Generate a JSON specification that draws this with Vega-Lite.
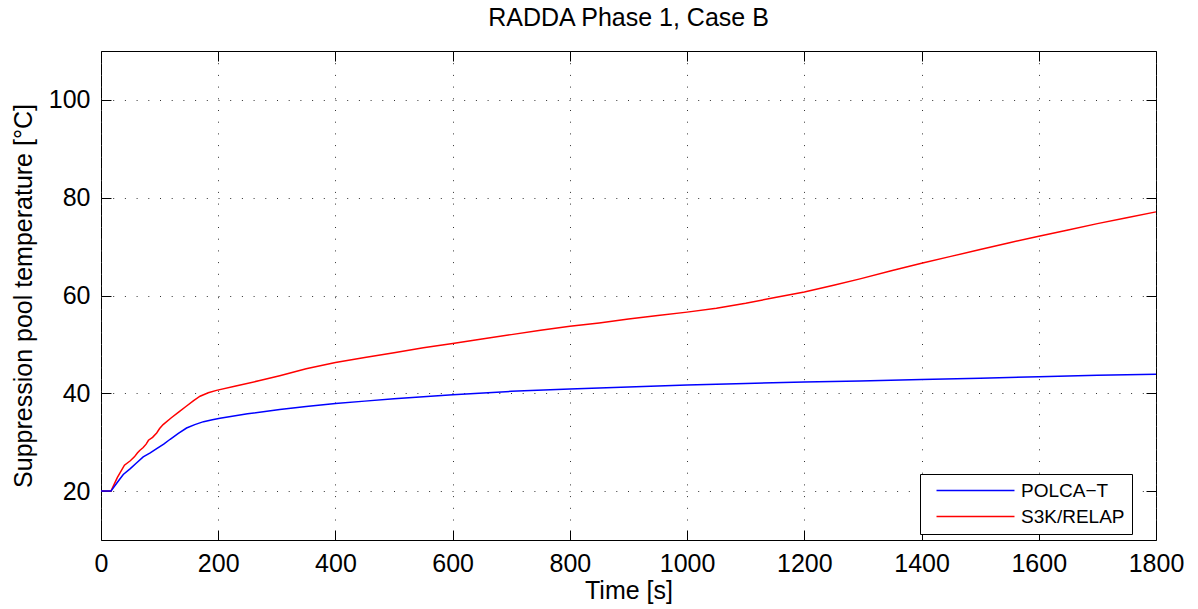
{
  "$schema": "https://vega.github.io/schema/vega-lite/v6.json",
  "width": 1055,
  "height": 489,
  "autosize": "none",
  "padding": {"left": 101, "top": 51, "right": 42, "bottom": 69},
  "background": "white",
  "title": {"text": "RADDA Phase 1, Case B", "fontSize": 25, "fontWeight": "normal", "font": "Liberation Sans", "color": "black", "baseline": "alphabetic", "offset": 0},
  "data": {"values": [
    {"t": 0, "temp": 20, "series": "S3K/RELAP"},
    {"t": 17, "temp": 20, "series": "S3K/RELAP"},
    {"t": 28, "temp": 22.8, "series": "S3K/RELAP"},
    {"t": 40, "temp": 25.3, "series": "S3K/RELAP"},
    {"t": 50, "temp": 26.2, "series": "S3K/RELAP"},
    {"t": 57, "temp": 27.0, "series": "S3K/RELAP"},
    {"t": 62, "temp": 27.8, "series": "S3K/RELAP"},
    {"t": 66, "temp": 28.3, "series": "S3K/RELAP"},
    {"t": 72, "temp": 28.9, "series": "S3K/RELAP"},
    {"t": 77, "temp": 29.6, "series": "S3K/RELAP"},
    {"t": 81, "temp": 30.4, "series": "S3K/RELAP"},
    {"t": 88, "temp": 31.0, "series": "S3K/RELAP"},
    {"t": 95, "temp": 31.9, "series": "S3K/RELAP"},
    {"t": 100, "temp": 32.8, "series": "S3K/RELAP"},
    {"t": 106, "temp": 33.6, "series": "S3K/RELAP"},
    {"t": 120, "temp": 35.0, "series": "S3K/RELAP"},
    {"t": 133, "temp": 36.2, "series": "S3K/RELAP"},
    {"t": 146, "temp": 37.4, "series": "S3K/RELAP"},
    {"t": 158, "temp": 38.5, "series": "S3K/RELAP"},
    {"t": 169, "temp": 39.4, "series": "S3K/RELAP"},
    {"t": 183, "temp": 40.1, "series": "S3K/RELAP"},
    {"t": 197, "temp": 40.6, "series": "S3K/RELAP"},
    {"t": 230, "temp": 41.5, "series": "S3K/RELAP"},
    {"t": 271, "temp": 42.6, "series": "S3K/RELAP"},
    {"t": 305, "temp": 43.6, "series": "S3K/RELAP"},
    {"t": 350, "temp": 45.0, "series": "S3K/RELAP"},
    {"t": 400, "temp": 46.3, "series": "S3K/RELAP"},
    {"t": 450, "temp": 47.3, "series": "S3K/RELAP"},
    {"t": 500, "temp": 48.3, "series": "S3K/RELAP"},
    {"t": 550, "temp": 49.3, "series": "S3K/RELAP"},
    {"t": 600, "temp": 50.2, "series": "S3K/RELAP"},
    {"t": 650, "temp": 51.1, "series": "S3K/RELAP"},
    {"t": 700, "temp": 52.0, "series": "S3K/RELAP"},
    {"t": 750, "temp": 52.9, "series": "S3K/RELAP"},
    {"t": 800, "temp": 53.7, "series": "S3K/RELAP"},
    {"t": 850, "temp": 54.4, "series": "S3K/RELAP"},
    {"t": 900, "temp": 55.2, "series": "S3K/RELAP"},
    {"t": 950, "temp": 55.9, "series": "S3K/RELAP"},
    {"t": 1000, "temp": 56.6, "series": "S3K/RELAP"},
    {"t": 1050, "temp": 57.4, "series": "S3K/RELAP"},
    {"t": 1100, "temp": 58.4, "series": "S3K/RELAP"},
    {"t": 1150, "temp": 59.6, "series": "S3K/RELAP"},
    {"t": 1200, "temp": 60.7, "series": "S3K/RELAP"},
    {"t": 1250, "temp": 62.1, "series": "S3K/RELAP"},
    {"t": 1295, "temp": 63.4, "series": "S3K/RELAP"},
    {"t": 1350, "temp": 65.1, "series": "S3K/RELAP"},
    {"t": 1400, "temp": 66.6, "series": "S3K/RELAP"},
    {"t": 1450, "temp": 68.0, "series": "S3K/RELAP"},
    {"t": 1500, "temp": 69.4, "series": "S3K/RELAP"},
    {"t": 1550, "temp": 70.8, "series": "S3K/RELAP"},
    {"t": 1600, "temp": 72.1, "series": "S3K/RELAP"},
    {"t": 1650, "temp": 73.4, "series": "S3K/RELAP"},
    {"t": 1700, "temp": 74.7, "series": "S3K/RELAP"},
    {"t": 1750, "temp": 75.9, "series": "S3K/RELAP"},
    {"t": 1800, "temp": 77.1, "series": "S3K/RELAP"},
    {"t": 0, "temp": 20, "series": "POLCA−T"},
    {"t": 17, "temp": 20, "series": "POLCA−T"},
    {"t": 28, "temp": 21.8, "series": "POLCA−T"},
    {"t": 38, "temp": 23.4, "series": "POLCA−T"},
    {"t": 50, "temp": 24.6, "series": "POLCA−T"},
    {"t": 60, "temp": 25.7, "series": "POLCA−T"},
    {"t": 72, "temp": 27.0, "series": "POLCA−T"},
    {"t": 84, "temp": 27.8, "series": "POLCA−T"},
    {"t": 95, "temp": 28.7, "series": "POLCA−T"},
    {"t": 107, "temp": 29.6, "series": "POLCA−T"},
    {"t": 118, "temp": 30.6, "series": "POLCA−T"},
    {"t": 132, "temp": 31.8, "series": "POLCA−T"},
    {"t": 146, "temp": 32.9, "series": "POLCA−T"},
    {"t": 160, "temp": 33.6, "series": "POLCA−T"},
    {"t": 175, "temp": 34.2, "series": "POLCA−T"},
    {"t": 190, "temp": 34.6, "series": "POLCA−T"},
    {"t": 203, "temp": 34.9, "series": "POLCA−T"},
    {"t": 250, "temp": 35.8, "series": "POLCA−T"},
    {"t": 305, "temp": 36.7, "series": "POLCA−T"},
    {"t": 350, "temp": 37.3, "series": "POLCA−T"},
    {"t": 400, "temp": 37.9, "series": "POLCA−T"},
    {"t": 450, "temp": 38.4, "series": "POLCA−T"},
    {"t": 500, "temp": 38.9, "series": "POLCA−T"},
    {"t": 550, "temp": 39.3, "series": "POLCA−T"},
    {"t": 600, "temp": 39.7, "series": "POLCA−T"},
    {"t": 700, "temp": 40.4, "series": "POLCA−T"},
    {"t": 800, "temp": 40.9, "series": "POLCA−T"},
    {"t": 900, "temp": 41.3, "series": "POLCA−T"},
    {"t": 1000, "temp": 41.7, "series": "POLCA−T"},
    {"t": 1100, "temp": 42.0, "series": "POLCA−T"},
    {"t": 1200, "temp": 42.3, "series": "POLCA−T"},
    {"t": 1295, "temp": 42.5, "series": "POLCA−T"},
    {"t": 1400, "temp": 42.8, "series": "POLCA−T"},
    {"t": 1500, "temp": 43.1, "series": "POLCA−T"},
    {"t": 1600, "temp": 43.4, "series": "POLCA−T"},
    {"t": 1700, "temp": 43.7, "series": "POLCA−T"},
    {"t": 1800, "temp": 43.9, "series": "POLCA−T"}
  ]},
  "config": {
    "font": "Liberation Sans",
    "view": {"stroke": "black", "strokeWidth": 1},
    "axis": {
      "domain": false,
      "labelFont": "Liberation Sans",
      "labelFontSize": 25,
      "labelColor": "black",
      "titleFont": "Liberation Sans",
      "titleFontSize": 25,
      "titleFontWeight": "normal",
      "titleColor": "black",
      "tickColor": "black",
      "tickSize": -10,
      "tickWidth": 1,
      "labelPadding": 21,
      "gridColor": "#333",
      "gridDash": [1, 10.7],
      "gridWidth": 1,
      "gridOpacity": 1
    }
  },
  "layer": [
    {
      "mark": {"type": "line", "strokeWidth": 1.5},
      "encoding": {
        "x": {"field": "t", "type": "quantitative", "scale": {"domain": [0, 1800], "nice": false, "zero": false},
          "axis": {"orient": "bottom", "values": [0, 200, 400, 600, 800, 1000, 1200, 1400, 1600, 1800], "format": "d", "title": "Time [s]", "titlePadding": 2, "grid": true, "labelFlush": false}},
        "y": {"field": "temp", "type": "quantitative", "scale": {"domain": [10, 110], "nice": false, "zero": false},
          "axis": {"orient": "left", "values": [20, 40, 60, 80, 100], "format": "d", "title": "Suppression pool temperature [°C]", "titlePadding": 12, "grid": true}},
        "color": {"field": "series", "type": "nominal",
          "scale": {"domain": ["POLCA−T", "S3K/RELAP"], "range": ["#0000ff", "#ff0000"]},
          "legend": {"orient": "none", "legendX": 819, "legendY": 423, "title": null, "strokeColor": "black", "fillColor": "white", "padding": 7, "symbolType": "M-8,0H8", "symbolSize": 95, "symbolStrokeWidth": 1.5, "symbolOffset": 39, "labelOffset": 36, "labelFontSize": 19, "labelFont": "Liberation Sans", "labelColor": "black", "rowPadding": 6, "cornerRadius": 0}}
      }
    },
    {
      "mark": {"type": "line", "strokeOpacity": 0},
      "encoding": {
        "x": {"field": "t", "type": "quantitative", "axis": {"orient": "top", "values": [0, 200, 400, 600, 800, 1000, 1200, 1400, 1600, 1800], "labels": false, "title": null, "grid": false}},
        "y": {"field": "temp", "type": "quantitative", "axis": {"orient": "right", "values": [20, 40, 60, 80, 100], "labels": false, "title": null, "grid": false}},
        "detail": {"field": "series"}
      }
    }
  ],
  "resolve": {"axis": {"x": "independent", "y": "independent"}}
}
